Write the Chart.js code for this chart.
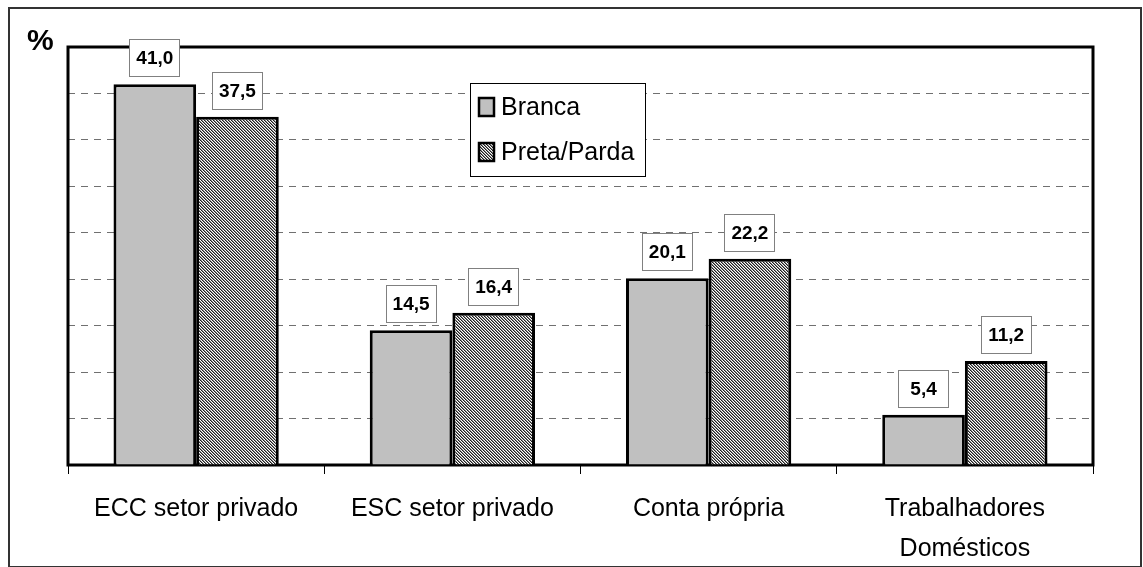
<!DOCTYPE html>
<html><head><meta charset="utf-8">
<script src="https://cdn.jsdelivr.net/npm/chart.js@4/dist/chart.umd.min.js"></script>
<style>html,body{margin:0;padding:0;background:#fff;}#wrap{width:1143px;height:567px;}</style>
</head><body><div id="wrap"><canvas id="c" width="1143" height="567"></canvas></div>
<script>
const categories = [["ECC setor privado"], ["ESC setor privado"], ["Conta própria"], ["Trabalhadores", "Domésticos"]];
const seriesNames = ["Branca", "Preta/Parda"];
const branca = [41.0, 14.5, 20.1, 5.4];
const pretaParda = [37.5, 16.4, 22.2, 11.2];
const yMin = 0, yMax = 45, yStep = 5;
const yTitle = "%";

const FONT = '"Liberation Sans", Arial, sans-serif';
Chart.defaults.font.family = FONT;
Chart.defaults.color = '#000';

const canvas = document.getElementById('c');
const ctx0 = canvas.getContext('2d');
function makeHatch() {
  const p = document.createElement('canvas'); p.width = 3; p.height = 3;
  const g = p.getContext('2d');
  const cols = ['#1e1e1e', '#8a8a8a', '#ffffff'];
  for (let x = 0; x < 3; x++) for (let y = 0; y < 3; y++) {
    g.fillStyle = cols[(((x - y) % 3) + 3) % 3];
    g.fillRect(x, y, 1, 1);
  }
  return ctx0.createPattern(p, 'repeat');
}
const hatch = makeHatch();

const framePlugin = {
  id: 'frame',
  beforeDraw(chart) {
    const c = chart.ctx;
    c.save();
    c.fillStyle = '#fff'; c.fillRect(0, 0, chart.width, chart.height);
    c.strokeStyle = '#333'; c.lineWidth = 2;
    c.strokeRect(9, 8, 1132, 559);
    c.restore();
  },
  beforeDatasetsDraw(chart) {
    const a = chart.chartArea, c = chart.ctx;
    c.save();
    c.strokeStyle = '#000'; c.lineWidth = 3;
    c.strokeRect(a.left, a.top, a.right - a.left, a.bottom - a.top);
    c.restore();
  },
  afterDatasetsDraw(chart) {
    const c = chart.ctx;
    c.save();
    chart.data.datasets.forEach((ds, i) => {
      chart.getDatasetMeta(i).data.forEach((bar, j) => {
        const txt = ds.data[j].toFixed(1).replace('.', ',');
        const w = 51, h = 38;
        const x = Math.round(bar.x - w / 2), y = Math.round(bar.y - 7 - h);
        c.fillStyle = '#fff'; c.fillRect(x, y, w, h);
        c.strokeStyle = '#808080'; c.lineWidth = 1;
        c.strokeRect(x + 0.5, y + 0.5, w - 1, h - 1);
        c.fillStyle = '#000'; c.font = 'bold 19px ' + FONT;
        c.textAlign = 'center'; c.textBaseline = 'middle';
        c.fillText(txt, bar.x, y + h / 2 + 1);
      });
    });
    // legend
    const a = chart.chartArea;
    const lx = a.left + 402, ly = a.top + 36, lw = 176, lh = 94;
    c.fillStyle = '#fff'; c.fillRect(lx, ly, lw, lh);
    c.strokeStyle = '#000'; c.lineWidth = 1;
    c.strokeRect(lx + 0.5, ly + 0.5, lw - 1, lh - 1);
    chart.data.datasets.forEach((ds, i) => {
      const cy = ly + 24 + i * 45;
      c.fillStyle = ds.backgroundColor;
      c.fillRect(lx + 9, cy - 9, 15, 18);
      c.strokeStyle = '#000'; c.lineWidth = 2.5;
      c.strokeRect(lx + 9, cy - 9, 15, 18);
      c.fillStyle = '#000'; c.font = '25px ' + FONT;
      c.textAlign = 'left'; c.textBaseline = 'middle';
      c.fillText(ds.label, lx + 31, cy + 1);
    });
    // y title
    c.font = 'bold 30px ' + FONT;
    c.textAlign = 'left'; c.textBaseline = 'middle';
    c.fillText(yTitle, 27, 42);
    c.restore();
  }
};

new Chart(canvas, {
  type: 'bar',
  data: {
    labels: categories,
    datasets: [
      { label: seriesNames[0], data: branca, backgroundColor: '#c0c0c0', borderColor: '#000', borderWidth: 3,
        categoryPercentage: 0.645, barPercentage: 1.0 },
      { label: seriesNames[1], data: pretaParda, backgroundColor: hatch, borderColor: '#000', borderWidth: 3,
        categoryPercentage: 0.645, barPercentage: 1.0 }
    ]
  },
  options: {
    responsive: false,
    animation: false,
    devicePixelRatio: 1,
    layout: { padding: { left: 68, top: 47, right: 50, bottom: 0 } },
    plugins: { legend: { display: false }, tooltip: { enabled: false } },
    scales: {
      x: {
        afterFit(s) { s.height = 102; },
        grid: { display: true, drawOnChartArea: false, drawTicks: true, tickLength: 9, color: '#000', lineWidth: 1, offset: true },
        border: { display: false },
        ticks: { font: { size: 25, lineHeight: 1.6 }, color: '#000', padding: 15, maxRotation: 0, autoSkip: false }
      },
      y: {
        min: yMin, max: yMax,
        afterFit(s) { s.width = 0; },
        ticks: { display: false, stepSize: yStep },
        grid: { drawTicks: false, lineWidth: 1,
          color: (ctx) => (ctx.tick && (ctx.tick.value === yMin || ctx.tick.value === yMax)) ? 'rgba(0,0,0,0)' : '#707070' },
        border: { display: false, dash: [7, 6] }
      }
    }
  },
  plugins: [framePlugin]
});
</script>
</body></html>
